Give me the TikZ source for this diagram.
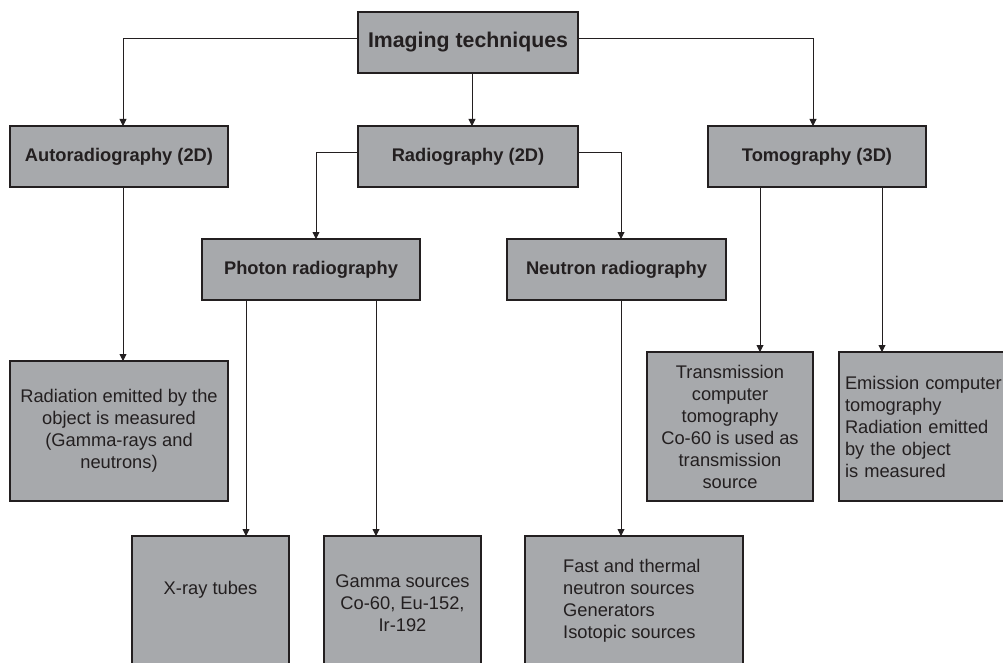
\documentclass[tikz,border=0pt]{standalone}
\usepackage{fontspec}
\setmainfont{Liberation Sans}
\usetikzlibrary{arrows.meta}
\definecolor{boxfill}{HTML}{A7A9AC}
\definecolor{ink}{HTML}{231F20}
\begin{document}
\begin{tikzpicture}[x=1pt,y=-1pt,
 box/.style={draw=ink, fill=boxfill, line width=1.1pt, inner sep=0pt, outer sep=0pt, text=ink, font=\fontsize{18.3}{22}\selectfont, align=center},
 head/.style={box, font=\fontsize{18.3}{22}\selectfont\bfseries, minimum height=61pt},
 txt/.style={text=ink, font=\fontsize{18.3}{22}\selectfont, inner sep=0pt},
 arr/.style={draw=ink, line width=0.9pt, -{Triangle[width=7pt,length=7pt]}}]
\clip (0,0) rectangle (1003,663);
\fill[white] (0,0) rectangle (1003,663);
% header boxes
\node[head, minimum width=220pt, font=\fontsize{21.3}{25}\selectfont\bfseries] (top) at (468,42.5) {Imaging techniques};
\node[head, minimum width=218pt] (auto) at (119,156.5) {Autoradiography (2D)};
\node[head, minimum width=220pt] (radio) at (468,156.5) {Radiography (2D)};
\node[head, minimum width=218pt] (tomo) at (817,156.5) {Tomography (3D)};
\node[head, minimum width=218pt] (photon) at (311,269.5) {Photon radiography};
\node[head, minimum width=219pt] (neutron) at (616.5,269.5) {Neutron radiography};
% text boxes
\node[box, minimum width=218pt, minimum height=140pt] (radiation) at (119,431) {Radiation emitted by the\\object is measured\\(Gamma-rays and\\neutrons)};
\node[box, minimum width=166pt, minimum height=149pt] (trans) at (730,426.5) {Transmission\\computer\\tomography\\Co-60 is used as\\transmission\\source};
\node[box, minimum height=149pt, anchor=north west, text width=206pt, inner xsep=6pt, align=left] (emis) at (839,352) {Emission computer\\tomography\\Radiation emitted\\by the object\\is measured};
% bottom boxes (cut by the frame)
\node[box, minimum width=157pt, minimum height=170pt, anchor=north] (xray) at (210.5,536) {};
\node[txt] (xrayt) at (210.5,590) {X-ray tubes};
\node[box, minimum width=157pt, minimum height=170pt, anchor=north] (gamma) at (402.5,536) {};
\node[txt, align=center] (gammat) at (402.5,603) {Gamma sources\\Co-60, Eu-152,\\Ir-192};
\node[box, minimum width=218pt, minimum height=170pt, anchor=north] (fast) at (634,536) {};
\node[txt, align=left, anchor=west] (fastt) at (563,600.5) {Fast and thermal\\neutron sources\\Generators\\Isotopic sources};
% connectors
\draw[arr] ([yshift=4.5pt]top.west) -| ([xshift=4pt]auto.north);
\draw[arr] ([yshift=4.5pt]top.east) -| ([xshift=-4pt]tomo.north);
\draw[arr] ([xshift=4pt]top.south) -- ([xshift=4pt]radio.north);
\draw[arr] ([yshift=4.5pt]radio.west) -| ([xshift=5pt]photon.north);
\draw[arr] ([yshift=4.5pt]radio.east) -| ([xshift=4.5pt]neutron.north);
\draw[arr] ([xshift=4pt]auto.south) -- ([xshift=4pt]auto.south |- radiation.north);
\draw[arr] ([xshift=-65pt]photon.south) -- ([xshift=-65pt]photon.south |- xray.north);
\draw[arr] ([xshift=65pt]photon.south) -- ([xshift=65pt]photon.south |- gamma.north);
\draw[arr] ([xshift=4.5pt]neutron.south) -- ([xshift=4.5pt]neutron.south |- fast.north);
\draw[arr] ([xshift=-57pt]tomo.south) -- ([xshift=-57pt]tomo.south |- trans.north);
\draw[arr] ([xshift=65pt]tomo.south) -- ([xshift=65pt]tomo.south |- emis.north);
\end{tikzpicture}
\end{document}
